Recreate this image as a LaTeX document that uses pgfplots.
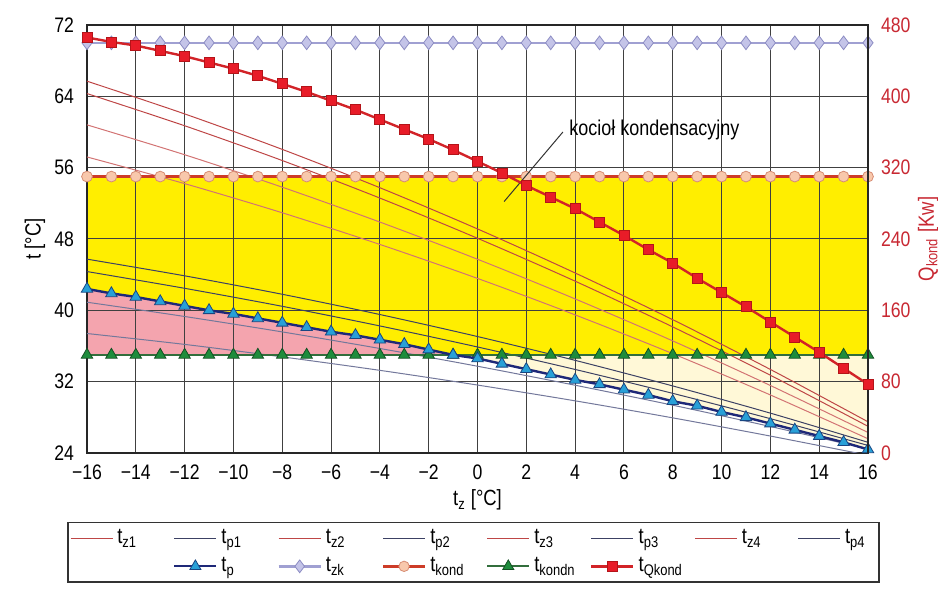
\documentclass[border=0pt]{standalone}
\usepackage{fontspec}
\setmainfont{Liberation Sans}[FakeStretch=0.84]
\usepackage{pgfplots}
\pgfplotsset{compat=1.18}
\definecolor{cyellow}{RGB}{255,238,0}
\definecolor{cpink}{RGB}{244,164,174}
\definecolor{ccream}{RGB}{255,248,215}
\definecolor{ctzkline}{RGB}{160,160,210}
\definecolor{ctzkfill}{RGB}{196,196,232}
\definecolor{ctzkedge}{RGB}{140,140,195}
\definecolor{ckline}{RGB}{205,60,40}
\definecolor{ckfill}{RGB}{248,200,172}
\definecolor{ckedge}{RGB}{215,140,115}
\definecolor{cknline}{RGB}{50,110,60}
\definecolor{cknfill}{RGB}{30,140,60}
\definecolor{cknedge}{RGB}{20,80,35}
\definecolor{ctpline}{RGB}{30,40,120}
\definecolor{ctpfill}{RGB}{40,160,215}
\definecolor{ctpedge}{RGB}{25,70,130}
\definecolor{cqline}{RGB}{210,35,40}
\definecolor{cqfill}{RGB}{232,28,40}
\definecolor{cqedge}{RGB}{180,20,25}
\definecolor{ctzA}{RGB}{190,70,70}
\definecolor{ctzB}{RGB}{210,115,115}
\definecolor{ctpA}{RGB}{60,65,100}
\definecolor{ctpB}{RGB}{115,120,155}
\definecolor{cqred}{RGB}{200,40,50}
\pgfplotsset{
  base/.style={at={(0pt,0pt)}, anchor=south west,
    scale only axis, width=390.5pt, height=214pt,
    xmin=-16, xmax=16},
}
\begin{document}
\begin{tikzpicture}
\path[use as bounding box] (-43.5pt,-78.5pt) rectangle (425.5pt,226.5pt);
% axis 1: background fills only
\begin{axis}[base, ymin=24, ymax=72, hide axis]
\addplot[fill=cyellow, draw=none] coordinates {(-16,35) (16,35) (16,55) (-16,55) (-16,35)};
\addplot[fill=cpink, draw=none] coordinates {(-16,35) (-16,42.4) (-15,41.9) (-14,41.5) (-13,41.0) (-12,40.5) (-11,40.0) (-10,39.6) (-9,39.1) (-8,38.6) (-7,38.1) (-6,37.6) (-5,37.2) (-4,36.7) (-3,36.2) (-2,35.6) (-1,35.0) (-16,35)};
\addplot[fill=ccream, draw=none] coordinates {(-1,35.0) (0,34.6) (1,34.0) (2,33.4) (3,32.8) (4,32.2) (5,31.7) (6,31.1) (7,30.5) (8,29.8) (9,29.3) (10,28.6) (11,28.0) (12,27.3) (13,26.6) (14,25.9) (15,25.2) (16,24.4) (16,35) (-1,35.0)};
\end{axis}
% axis 2: grid, temperature lines, legend
\begin{axis}[base,
  ymin=24, ymax=72,
  xtick={-16,-14,...,16},
  xticklabels={−16,−14,−12,−10,−8,−6,−4,−2,0,2,4,6,8,10,12,14,16},
  ytick={24,32,...,72},
  grid=major, major grid style={line width=0.5pt, black!75},
  major tick length=0pt,
  axis line style={line width=0.7pt, black!85},
  tick label style={font=\fontsize{10.5}{12}\selectfont},
  /pgf/number format/assume math mode=true,
  xticklabel style={yshift=-2.5pt},
  yticklabel style={xshift=-3pt},
  xlabel={t\textsubscript{z} [°C]},
  xlabel style={at={(axis description cs:0.5,-0.11)}, anchor=center, font=\fontsize{11}{13}\selectfont},
  ylabel={t [°C]},
  ylabel style={at={(axis description cs:-0.0666,0.5)}, anchor=center, font=\fontsize{11}{13}\selectfont},
  clip mode=individual,
  legend columns=8,
  legend cell align=left,
  legend style={at={(0.495,-0.161)}, anchor=north, draw=black!80, line width=0.6pt,
    font=\fontsize{11}{13}\selectfont, inner xsep=1pt, inner ysep=1.5pt, row sep=1.5pt},
  legend image code/.code={\draw[mark repeat=2,mark phase=2] plot coordinates {(0pt,0pt)(10.5pt,0pt)(21pt,0pt)};},
]
% thin supply / return lines
\addplot[ctzA, line width=0.5pt, smooth, forget plot] coordinates {(-16,65.70) (-12,62.03) (-8,58.05) (-4,53.75) (0,49.13) (4,44.19) (8,38.95) (12,33.37) (16,27.50)};
\addplot[ctzA, line width=0.5pt, smooth, forget plot] coordinates {(-16,64.31) (-12,60.70) (-8,56.80) (-4,52.59) (0,48.08) (4,43.27) (8,38.14) (12,32.72) (16,26.99)};
\addplot[ctzB, line width=0.5pt, smooth, forget plot] coordinates {(-16,60.80) (-12,57.45) (-8,53.81) (-4,49.90) (0,45.73) (4,41.28) (8,36.57) (12,31.57) (16,26.30)};
\addplot[ctzB, line width=0.5pt, smooth, forget plot] coordinates {(-16,57.20) (-12,54.21) (-8,50.94) (-4,47.39) (0,43.58) (4,39.49) (8,35.14) (12,30.51) (16,25.60)};
\addplot[ctpA, line width=0.5pt, smooth, forget plot] coordinates {(-16,45.74) (-12,43.87) (-8,41.80) (-4,39.53) (0,37.06) (4,34.39) (8,31.52) (12,28.47) (16,25.20)};
\addplot[ctpA, line width=0.5pt, smooth, forget plot] coordinates {(-16,44.35) (-12,42.47) (-8,40.45) (-4,38.25) (0,35.89) (4,33.37) (8,30.69) (12,27.85) (16,24.85)};
\addplot[ctpB, line width=0.5pt, smooth, forget plot] coordinates {(-16,40.91) (-12,39.31) (-8,37.58) (-4,35.72) (0,33.73) (4,31.60) (8,29.36) (12,26.97) (16,24.45)};
\addplot[ctpB, line width=0.5pt, smooth, forget plot] coordinates {(-16,37.40) (-12,36.18) (-8,34.78) (-4,33.27) (0,31.62) (4,29.85) (8,27.94) (12,25.90) (16,23.75)};
% t_zk
\addplot[ctzkline, line width=1.2pt, mark=diamond*, mark size=3.4pt, mark options={fill=ctzkfill, draw=ctzkedge, line width=0.4pt}, forget plot] coordinates {(-16,70) (-15,70) (-14,70) (-13,70) (-12,70) (-11,70) (-10,70) (-9,70) (-8,70) (-7,70) (-6,70) (-5,70) (-4,70) (-3,70) (-2,70) (-1,70) (0,70) (1,70) (2,70) (3,70) (4,70) (5,70) (6,70) (7,70) (8,70) (9,70) (10,70) (11,70) (12,70) (13,70) (14,70) (15,70) (16,70)};
% t_kond
\addplot[ckline, line width=1.2pt, mark=*, mark size=2.7pt, mark options={fill=ckfill, draw=ckedge, line width=0.4pt}, forget plot] coordinates {(-16,55) (-15,55) (-14,55) (-13,55) (-12,55) (-11,55) (-10,55) (-9,55) (-8,55) (-7,55) (-6,55) (-5,55) (-4,55) (-3,55) (-2,55) (-1,55) (0,55) (1,55) (2,55) (3,55) (4,55) (5,55) (6,55) (7,55) (8,55) (9,55) (10,55) (11,55) (12,55) (13,55) (14,55) (15,55) (16,55)};
% t_kondn
\addplot[cknline, line width=1pt, mark=triangle*, mark size=3.3pt, mark options={fill=cknfill, draw=cknedge, line width=0.4pt}, forget plot] coordinates {(-16,35) (-15,35) (-14,35) (-13,35) (-12,35) (-11,35) (-10,35) (-9,35) (-8,35) (-7,35) (-6,35) (-5,35) (-4,35) (-3,35) (-2,35) (-1,35) (0,35) (1,35) (2,35) (3,35) (4,35) (5,35) (6,35) (7,35) (8,35) (9,35) (10,35) (11,35) (12,35) (13,35) (14,35) (15,35) (16,35)};
% t_p
\addplot[ctpline, line width=1.2pt, mark=triangle*, mark size=3.3pt, mark options={fill=ctpfill, draw=ctpedge, line width=0.4pt}, forget plot] coordinates {(-16,42.4) (-15,41.9) (-14,41.5) (-13,41.0) (-12,40.5) (-11,40.0) (-10,39.6) (-9,39.1) (-8,38.6) (-7,38.1) (-6,37.6) (-5,37.2) (-4,36.7) (-3,36.2) (-2,35.6) (-1,35.0) (0,34.6) (1,34.0) (2,33.4) (3,32.8) (4,32.2) (5,31.7) (6,31.1) (7,30.5) (8,29.8) (9,29.3) (10,28.6) (11,28.0) (12,27.3) (13,26.6) (14,25.9) (15,25.2) (16,24.4)};
% annotation
\draw[black!80, line width=0.5pt] (axis cs:1.09,52.2) -- (axis cs:3.5,60.0);
\node[anchor=west, inner sep=0pt, font=\fontsize{10.7}{12}\selectfont] at (axis cs:3.75,60.2) {kocioł kondensacyjny};
% legend
\addlegendimage{ctzA, line width=0.6pt}
\addlegendentry{\makebox[26pt][l]{t\textsubscript{z1}}}
\addlegendimage{ctpA, line width=0.6pt}
\addlegendentry{\makebox[26pt][l]{t\textsubscript{p1}}}
\addlegendimage{ctzA, line width=0.6pt}
\addlegendentry{\makebox[26pt][l]{t\textsubscript{z2}}}
\addlegendimage{ctpA, line width=0.6pt}
\addlegendentry{\makebox[26pt][l]{t\textsubscript{p2}}}
\addlegendimage{ctzA, line width=0.6pt}
\addlegendentry{\makebox[26pt][l]{t\textsubscript{z3}}}
\addlegendimage{ctpA, line width=0.6pt}
\addlegendentry{\makebox[26pt][l]{t\textsubscript{p3}}}
\addlegendimage{ctzA, line width=0.6pt}
\addlegendentry{\makebox[26pt][l]{t\textsubscript{z4}}}
\addlegendimage{ctpA, line width=0.6pt}
\addlegendentry{\makebox[14pt][l]{t\textsubscript{p4}}}
\addlegendimage{white, line width=0.1pt}
\addlegendentry{\makebox[26pt][l]{}}
\addlegendimage{ctpline, line width=1.1pt, mark=triangle*, mark size=3.2pt, mark options={fill=ctpfill, draw=ctpedge, line width=0.4pt}}
\addlegendentry{\makebox[26pt][l]{t\textsubscript{p}}}
\addlegendimage{ctzkline, line width=1.2pt, mark=diamond*, mark size=3.2pt, mark options={fill=ctzkfill, draw=ctzkedge, line width=0.4pt}}
\addlegendentry{\makebox[26pt][l]{t\textsubscript{zk}}}
\addlegendimage{ckline, line width=1.2pt, mark=*, mark size=2.6pt, mark options={fill=ckfill, draw=ckedge, line width=0.4pt}}
\addlegendentry{\makebox[26pt][l]{t\textsubscript{kond}}}
\addlegendimage{cknline, line width=1pt, mark=triangle*, mark size=3.2pt, mark options={fill=cknfill, draw=cknedge, line width=0.4pt}}
\addlegendentry{\makebox[26pt][l]{t\textsubscript{kondn}}}
\addlegendimage{cqline, line width=1.2pt, mark=square*, mark size=2.5pt, mark options={fill=cqfill, draw=cqedge, line width=0.4pt}}
\addlegendentry{\makebox[26pt][l]{t\textsubscript{Qkond}}}
\end{axis}
% axis 3: Q_kond on the right
\begin{axis}[base,
  ymin=0, ymax=480,
  axis x line=none, axis y line*=right,
  ytick={0,80,...,480},
  major tick length=0pt,
  axis line style={line width=0.7pt, black!85},
  /pgf/number format/assume math mode=true,
  yticklabel style={xshift=3pt, text=cqred, font=\fontsize{10.5}{12}\selectfont},
  ylabel={Q\textsubscript{kond} [Kw]},
  ylabel style={at={(axis description cs:1.077,0.5)}, anchor=center, text=cqred, font=\fontsize{11}{13}\selectfont},
  clip mode=individual,
]
\addplot[cqline, line width=1.2pt, mark=square*, mark size=2.5pt, mark options={fill=cqfill, draw=cqedge, line width=0.4pt}] coordinates {(-16,466) (-15,461) (-14,457) (-13,451) (-12,445) (-11,438) (-10,431) (-9,423) (-8,414) (-7,405) (-6,395) (-5,385) (-4,374) (-3,363) (-2,352) (-1,340) (0,327) (1,314) (2,300) (3,287) (4,274) (5,259) (6,244) (7,228) (8,213) (9,196) (10,180) (11,164) (12,147) (13,130) (14,113) (15,95) (16,77)};
\end{axis}
\end{tikzpicture}
\end{document}
